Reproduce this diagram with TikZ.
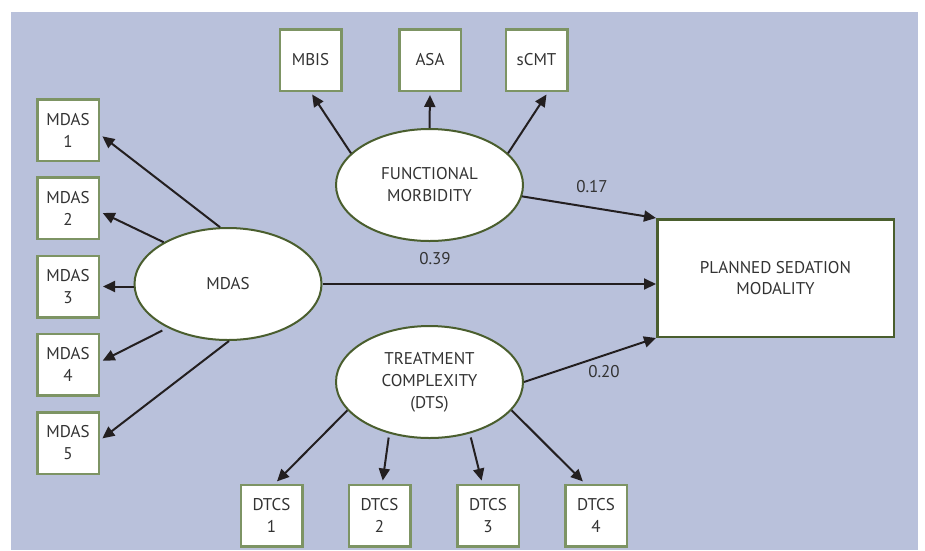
\documentclass[tikz,border=0pt]{standalone}
\usepackage{fontspec}
\setmainfont{PT Sans}
\usetikzlibrary{shapes.geometric,arrows.meta,calc}
\definecolor{bgblue}{HTML}{B9C1DB}
\definecolor{boxgreen}{HTML}{7D9464}
\definecolor{darkgreen}{HTML}{4A5E2E}
\definecolor{arrowc}{HTML}{231F20}
\definecolor{txt}{HTML}{333333}
\begin{document}
\begin{tikzpicture}[x=1pt,y=-1pt,
  sbox/.style={draw=boxgreen, line width=2.5pt, fill=white, minimum width=61.5pt, minimum height=61.5pt, inner sep=0pt, align=center, text=txt, font=\fontsize{17}{22}\selectfont},
  lat/.style={ellipse, draw=darkgreen, line width=2pt, fill=white, minimum width=187pt, minimum height=112pt, inner sep=0pt, align=center, text=txt, font=\fontsize{17}{22}\selectfont},
  outbox/.style={draw=darkgreen, line width=2.5pt, fill=white, minimum width=236.5pt, minimum height=117.5pt, inner sep=0pt, align=center, text=txt, font=\fontsize{17}{21}\selectfont},
  arr/.style={-{Triangle[length=12pt,width=11pt]}, line width=2pt, draw=arrowc},
  tobox/.style={arr, shorten >=3pt},
  coef/.style={text=txt, inner sep=0pt, font=\fontsize{17}{20}\selectfont}]
\fill[white] (0,0) rectangle (925,550);
\fill[bgblue] (11,12) rectangle (918,550);
\useasboundingbox (0,0) rectangle (925,550);

% latent variables
\node[lat] (m) at (228,284) {MDAS};
\node[lat] (f) at (429.5,185) {FUNCTIONAL\\MORBIDITY};
\node[lat] (t) at (429.5,382) {TREATMENT\\COMPLEXITY\\(DTS)};
\node[outbox] (psm) at (775.5,278) {PLANNED SEDATION\\MODALITY};

% MDAS indicators
\node[sbox] (md1) at (68,130) {MDAS\\1};
\node[sbox] (md2) at (68,208.3) {MDAS\\2};
\node[sbox] (md3) at (68,286.5) {MDAS\\3};
\node[sbox] (md4) at (68,364.8) {MDAS\\4};
\node[sbox] (md5) at (68,443) {MDAS\\5};

% functional morbidity indicators
\node[sbox] (mbis) at (310.5,60) {MBIS};
\node[sbox] (asa) at (430,60) {ASA};
\node[sbox] (scmt) at (536.5,60) {sCMT};

% DTCS indicators
\node[sbox] (d1) at (271.5,515.5) {DTCS\\1};
\node[sbox] (d2) at (379.5,515.5) {DTCS\\2};
\node[sbox] (d3) at (488,515.5) {DTCS\\3};
\node[sbox] (d4) at (596,515.5) {DTCS\\4};

% MDAS arrows
\draw[tobox] (m.98) -- (md1.-8);
\draw[tobox] (m.147) -- (md2.-6);
\draw[tobox] (m.west |- md3.east) -- (md3.east);
\draw[tobox, shorten <=6pt] (m.216) -- (md4.5);
\draw[tobox] (m.271) -- (md5.5);

% functional arrows
\draw[tobox] (f.158) -- (mbis.south);
\draw[tobox] (f.north) -- (asa.south);
\draw[tobox] (f.22) -- (scmt.-70);

% treatment arrows
\draw[tobox] (t.199) -- (d1.84);
\draw[tobox, shorten <=4pt] (t.-128) -- (d2.85);
\draw[tobox, shorten <=4pt] (t.-52) -- (d3.100);
\draw[tobox] (t.-19) -- (d4.109);

% structural paths
\draw[arr] (f.-7) -- (psm.north west);
\draw[arr] (m.east) -- (m.east -| psm.west);
\draw[arr] (t.east) -- (psm.south west);

\node[coef] (c17) at (592,187) {0.17};
\node[coef] (c39) at (435,259) {0.39};
\node[coef] (c20) at (604,372) {0.20};
\end{tikzpicture}
\end{document}
